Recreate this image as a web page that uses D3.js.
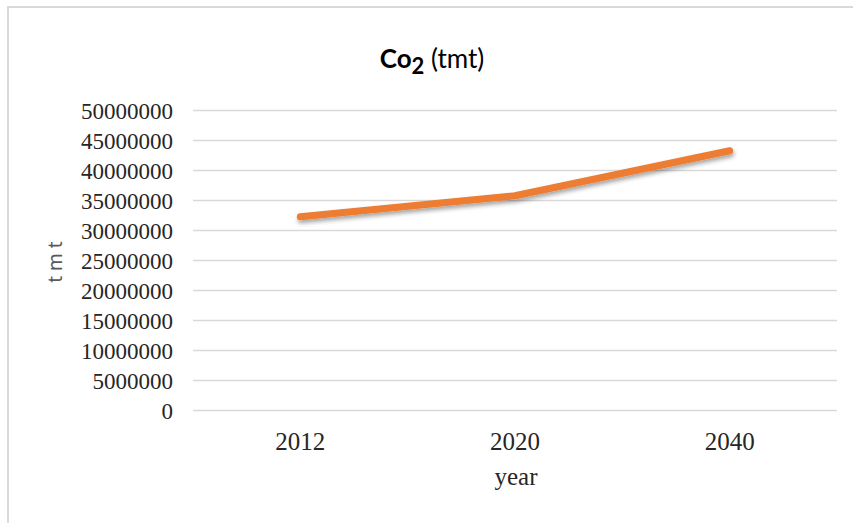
<!DOCTYPE html>
<html>
<head>
<meta charset="utf-8">
<script src="https://cdn.jsdelivr.net/npm/d3@7"></script>
<style>
  html, body { margin: 0; padding: 0; background: #ffffff; }
  svg { display: block; }
</style>
</head>
<body>
<svg id="chart" width="853" height="523"></svg>
<script>
// CO2 emissions (thousand metric tonnes) by year
const years = ["2012", "2020", "2040"];
const co2 = [32200000, 35700000, 43200000];
const yTicks = [0, 5000000, 10000000, 15000000, 20000000, 25000000,
                30000000, 35000000, 40000000, 45000000, 50000000];

const svg = d3.select("#chart");
const W = 853, H = 523;
const plot = { left: 193, right: 837, top: 110, bottom: 410 };

// outer chart frame
svg.append("rect")
  .attr("x", 8).attr("y", 7)
  .attr("width", W + 10).attr("height", H + 10)
  .attr("fill", "#ffffff")
  .attr("stroke", "#d9d9d9")
  .attr("stroke-width", 2);

const x = d3.scaleBand().domain(years).range([plot.left, plot.right]);
const y = d3.scaleLinear().domain([0, 50000000]).range([plot.bottom, plot.top]);

// gridlines + y tick labels
const yAxis = d3.axisLeft(y).tickValues(yTicks)
  .tickSize(-(plot.right - plot.left)).tickPadding(20).tickFormat(d3.format("d"));
const gy = svg.append("g").attr("transform", `translate(${plot.left},0)`).call(yAxis);
gy.select(".domain").remove();
gy.selectAll(".tick line").attr("stroke", "#d9d9d9").attr("stroke-width", 1.5);
gy.selectAll(".tick text")
  .attr("font-family", "'Liberation Serif', 'Times New Roman', serif")
  .attr("font-size", 23).attr("fill", "#262626").attr("dy", "0.36em");

// x axis labels
const xAxis = d3.axisBottom(x).tickSize(0).tickPadding(22);
const gx = svg.append("g").attr("transform", `translate(0,${plot.bottom})`).call(xAxis);
gx.select(".domain").remove();
gx.selectAll(".tick text")
  .attr("font-family", "'Liberation Serif', 'Times New Roman', serif")
  .attr("font-size", 25).attr("fill", "#262626");

// drop shadow for the series line
const defs = svg.append("defs");
const f = defs.append("filter").attr("id", "shadow")
  .attr("x", "-10%").attr("y", "-50%").attr("width", "120%").attr("height", "200%");
f.append("feDropShadow").attr("dx", 1).attr("dy", 3).attr("stdDeviation", 2)
  .attr("flood-color", "#000").attr("flood-opacity", 0.35);

const line = d3.line()
  .x((d, i) => x(years[i]) + x.bandwidth() / 2)
  .y(d => y(d));

svg.append("path")
  .datum(co2)
  .attr("d", line)
  .attr("fill", "none")
  .attr("stroke", "#ed7d31")
  .attr("stroke-width", 7)
  .attr("stroke-linecap", "round")
  .attr("stroke-linejoin", "round")
  .attr("filter", "url(#shadow)");

// title
const title = svg.append("text")
  .attr("x", 432).attr("y", 68)
  .attr("text-anchor", "middle")
  .attr("font-family", "Lato, 'Open Sans', sans-serif")
  .attr("font-size", 26).attr("fill", "#000");
title.append("tspan").attr("font-weight", "bold").text("Co");
title.append("tspan").attr("font-weight", "bold").attr("font-size", 22).attr("dy", 6).text("2");
title.append("tspan").attr("dy", -6).text(" (tmt)");

// axis titles
svg.append("text")
  .attr("x", 516).attr("y", 485)
  .attr("text-anchor", "middle")
  .attr("font-family", "'Liberation Serif', 'Times New Roman', serif")
  .attr("font-size", 25).attr("fill", "#262626")
  .text("year");

svg.append("text")
  .attr("transform", "translate(62,262) rotate(-90)")
  .attr("text-anchor", "middle")
  .attr("font-family", "'Noto Sans', 'Open Sans', sans-serif")
  .attr("font-size", 19).attr("fill", "#595959")
  .text("t m t");
</script>
</body>
</html>
